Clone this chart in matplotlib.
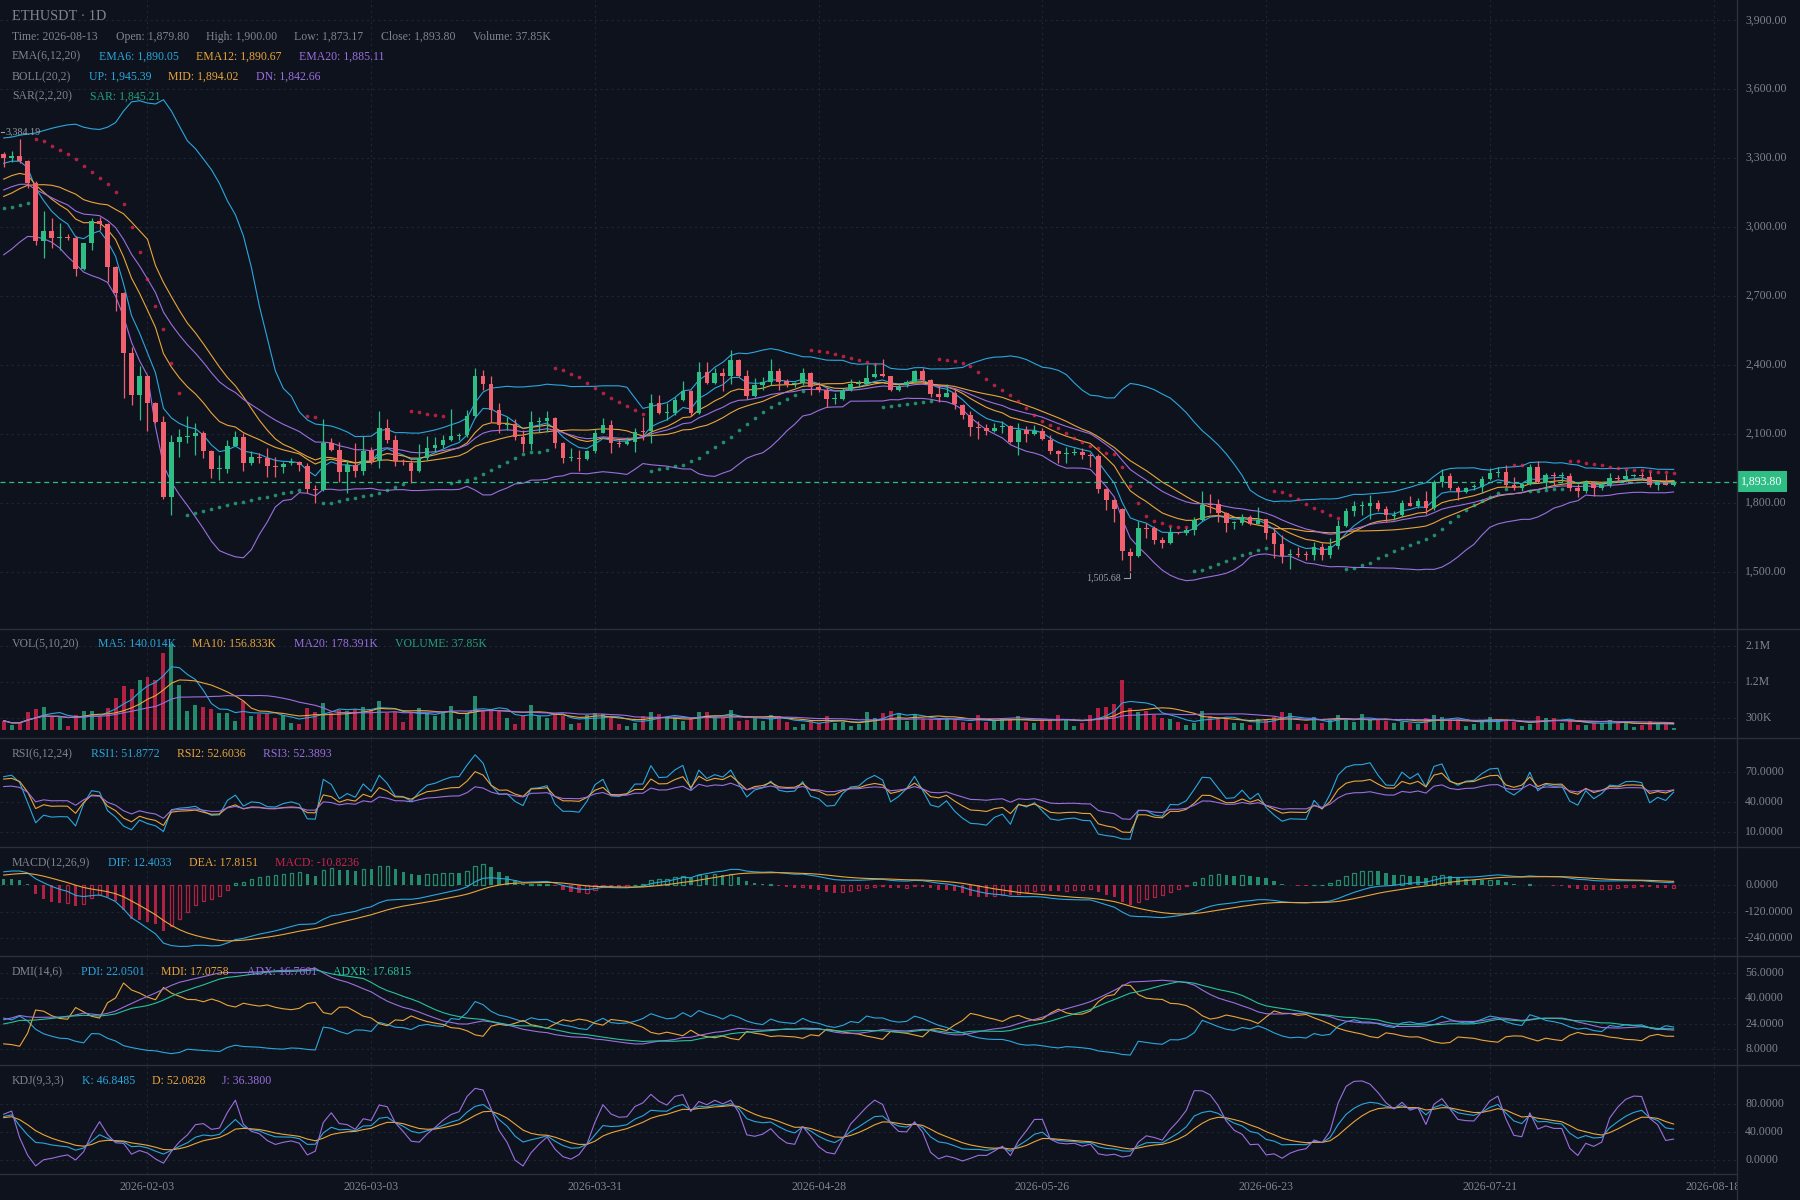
import numpy as np
import matplotlib
matplotlib.use("Agg")
import matplotlib.pyplot as plt
from matplotlib.patches import Rectangle
from matplotlib.collections import PatchCollection
from matplotlib.lines import Line2D
import matplotlib.transforms as mtrans
from datetime import date

# ---------------- data ----------------
start_day = "2026-01-16"
opens = [3319,3299,3310,3286,3191,2942,2984,2955,2957,2952,2819,2930,3027,3015,2825,2712,2455,2271,2351,2235,
         2151,1829,2068,2089,2094,2105,2025,1948,1948,2049,2090,1974,2003,1996,1960,1957,1974,1977,1963,1861,
         1858,2061,2032,1934,1967,1942,2029,1985,2126,2076,1982,1973,1942,1995,2041,2053,2075,2092,2095,2179,
         2352,2318,2205,2140,2144,2089,2057,2153,2158,2170,2063,1996,1998,1991,2028,2106,2140,2060,2057,2067,
         2114,2114,2237,2193,2193,2248,2289,2193,2371,2323,2364,2352,2422,2352,2266,2313,2328,2374,2331,2320,
         2323,2368,2306,2294,2255,2255,2294,2318,2320,2349,2361,2352,2292,2313,2328,2374,2335,2274,2263,2280,
         2226,2182,2129,2129,2114,2132,2135,2067,2117,2103,2113,2074,2026,2016,2019,2022,2009,2007,1863,1814,
         1775,1587,1571,1691,1691,1640,1626,1672,1672,1684,1727,1792,1795,1756,1715,1715,1741,1710,1730,1669,
         1623,1574,1577,1575,1575,1611,1576,1615,1702,1764,1786,1788,1803,1775,1746,1749,1803,1788,1810,1778,
         1894,1919,1865,1848,1870,1872,1904,1932,1934,1880,1865,1882,1956,1894,1922,1917,1919,1868,1851,1894,
         1865,1880,1908,1906,1919,1920,1916,1877,1887,1879.80]
highs = [3329,3330,3384.19,3293,3199,3071,3039,3017,2971,2960,2933,3039,3046,3017,2832,2718,2481,2397,2358,2238,
         2177,2097,2122,2180,2148,2112,2032,2008,2076,2112,2104,2025,2018,2040,2003,1981,1996,1984,1974,1880,
         2165,2083,2068,1989,2061,2093,2044,2202,2165,2097,1991,1988,2056,2092,2089,2096,2208,2106,2205,2386,
         2378,2352,2234,2173,2164,2118,2202,2176,2202,2173,2066,2039,2031,2031,2121,2169,2161,2075,2086,2125,
         2173,2274,2270,2234,2263,2332,2292,2414,2414,2386,2386,2465,2429,2378,2346,2349,2425,2386,2338,2328,
         2386,2371,2328,2306,2277,2303,2342,2335,2400,2404,2425,2355,2323,2335,2381,2386,2342,2320,2318,2299,
         2230,2200,2156,2146,2149,2156,2139,2149,2135,2142,2129,2096,2031,2045,2038,2038,2019,2016,1866,1817,
         1778,1604,1723,1715,1701,1655,1698,1676,1694,1741,1854,1840,1817,1763,1724,1753,1749,1785,1733,1698,
         1662,1600,1611,1590,1633,1626,1648,1728,1778,1810,1810,1836,1814,1788,1768,1814,1832,1822,1851,1901,
         1947,1933,1875,1872,1882,1919,1952,1956,1966,1913,1887,1971,1985,1930,1937,1937,1933,1884,1901,1898,
         1887,1933,1923,1945,1927,1937,1937,1898,1927,1900.00]
lows = [3264,3283,3278,3170,2923,2868,2909,2902,2945,2790,2815,2902,2988,2760,2636,2257,2225,2160,2116,2148,
        1819,1750,2003,2061,2010,1996,1909,1902,1931,2047,1938,1968,1974,1916,1912,1931,1967,1938,1844,1803,
        1851,2025,1894,1843,1913,1923,1971,1952,2061,1960,1966,1890,1937,1990,2024,2038,2070,2075,2090,2169,
        2294,2154,2104,2118,2075,2024,2031,2111,2111,2039,1976,1985,1942,1988,2017,2104,2020,2046,2053,2024,
        2075,2063,2190,2161,2183,2245,2179,2190,2320,2320,2289,2320,2349,2255,2263,2292,2313,2292,2306,2306,
        2313,2270,2284,2219,2231,2250,2290,2306,2318,2345,2349,2287,2290,2306,2323,2320,2263,2241,2260,2208,
        2165,2091,2078,2096,2110,2106,2062,2009,2067,2096,2074,2016,1973,1976,2009,1994,1958,1843,1770,1720,
        1551,1505.68,1568,1647,1623,1607,1623,1666,1662,1662,1722,1756,1720,1676,1686,1705,1705,1708,1643,1561,
        1539,1514,1568,1551,1553,1554,1561,1600,1696,1745,1749,1731,1764,1720,1728,1742,1786,1778,1754,1771,
        1872,1858,1814,1843,1858,1843,1901,1916,1872,1858,1854,1880,1887,1861,1880,1894,1851,1825,1843,1832,
        1858,1872,1894,1894,1913,1904,1872,1858,1877,1873.17]
closes = [3300,3310,3286,3191,2942,2984,2955,2957,2955,2819,2930,3025,3015,2825,2712,2455,2271,2351,2235,2151,
          1825,2067,2087,2093,2105,2025,1948,1951,2049,2090,1974,2003,1996,1960,1957,1971,1977,1965,1861,1858,
          2061,2032,1934,1967,1942,2029,1985,2126,2076,1982,1978,1942,1995,2041,2053,2075,2092,2095,2179,2352,
          2318,2205,2140,2142,2089,2057,2153,2158,2170,2063,1998,1998,1991,2028,2106,2140,2060,2057,2067,2111,
          2111,2237,2193,2196,2248,2289,2193,2371,2323,2364,2352,2422,2352,2266,2313,2328,2374,2328,2320,2323,
          2368,2306,2294,2255,2257,2294,2318,2321,2346,2361,2352,2292,2306,2328,2374,2335,2274,2263,2280,2231,
          2182,2132,2126,2114,2129,2135,2067,2117,2103,2114,2077,2026,2016,2019,2020,2009,2007,1863,1814,1775,
          1590,1571,1691,1689,1640,1626,1672,1670,1684,1727,1792,1790,1756,1715,1717,1741,1710,1727,1669,1623,
          1571,1577,1575,1573,1611,1576,1615,1702,1764,1786,1788,1803,1775,1749,1748,1803,1788,1810,1778,1894,
          1919,1865,1848,1868,1872,1904,1930,1934,1880,1865,1882,1956,1894,1923,1917,1919,1868,1851,1894,1865,
          1880,1908,1906,1919,1920,1918,1877,1887,1880,1893.80]
volumes_k = [226,117,176,444,519,569,310,310,92,368,469,469,310,544,795,1097,1021,1247,1323,1247,
             1934,2150,1122,469,620,561,511,427,427,218,712,343,393,393,285,368,159,134,544,452,
             670,427,494,469,519,561,494,720,427,444,193,410,544,427,343,427,594,260,427,846,
             494,494,477,293,142,343,620,343,285,393,343,142,176,360,419,385,310,142,92,167,
             343,444,393,285,310,218,285,444,444,310,285,494,218,243,285,218,368,343,193,67,
             142,243,159,343,176,201,92,142,444,293,419,469,419,218,393,260,260,260,260,260,
             193,167,368,193,218,260,260,343,193,167,243,243,368,243,92,167,368,544,561,645,
             1247,544,444,469,368,293,268,183,117,175,467,342,300,283,158,158,117,258,258,325,
             442,408,133,133,308,175,242,367,258,192,392,258,242,217,158,192,158,142,283,367,
             308,258,258,92,133,242,308,242,225,192,92,142,342,283,283,167,242,117,117,175,
             175,242,158,175,75,120,210,150,180,37.85]

# indicator state at the first visible candle
ema_start = {6: 3278, 12: 3209, 20: 3162}
macd_ema26_start = 3147
macd_dea_start = 47
rsi_start = {6: (29.5, 45.0), 12: (28.4, 45.0), 24: (25.0, 45.0)}   # (avg gain, avg abs change)
kd_start = (66.0, 60.0)
dmi_start = (80.0, 22.0, 9.0, 26.5, 21.1)   # tr, dm+, dm-, adx, adx six bars before
sar_start = (True, 3085.0, 3330.0, 0.02)    # uptrend, sar, extreme point, af
boll_up_start = [3388,3392,3400,3405,3410,3420,3430,3438,3445,3448,3435,3428,3425,3435,3455,3505,3545,3550,3540]
boll_dn_start = [2880,2905,2935,2960,2958,2950,2935,2910,2872,2840,2805,2790,2778,2760,2700,2612,2500,2420,2355]

tick_dates = ["2026-02-03","2026-03-03","2026-03-31","2026-04-28","2026-05-26","2026-06-23","2026-07-21","2026-08-18"]
price_ticks = [1500,1800,2100,2400,2700,3000,3300,3600,3900]
vol_ticks = [300,1200,2100]
vol_tick_labels = ["300K","1.2M","2.1M"]
rsi_ticks = [10,40,70]
macd_ticks = [-240,-120,0]
dmi_ticks = [8,24,40,56]
kdj_ticks = [0,40,80]

main_header = [
    [("ETHUSDT · 1D", "gray")],
    [("Time: 2026-08-13", "gray"), ("Open: 1,879.80", "gray"), ("High: 1,900.00", "gray"),
     ("Low: 1,873.17", "gray"), ("Close: 1,893.80", "gray"), ("Volume: 37.85K", "gray")],
    [("EMA(6,12,20)", "gray"), ("EMA6: 1,890.05", "c1"), ("EMA12: 1,890.67", "c2"), ("EMA20: 1,885.11", "c3")],
    [("BOLL(20,2)", "gray"), ("UP: 1,945.39", "c1"), ("MID: 1,894.02", "c2"), ("DN: 1,842.66", "c3")],
    [("SAR(2,2,20)", "gray"), ("SAR: 1,845.21", "green")],
]
vol_header = [("VOL(5,10,20)", "gray"), ("MA5: 140.014K", "c1"), ("MA10: 156.833K", "c2"),
              ("MA20: 178.391K", "c3"), ("VOLUME: 37.85K", "green")]
rsi_header = [("RSI(6,12,24)", "gray"), ("RSI1: 51.8772", "c1"), ("RSI2: 52.6036", "c2"), ("RSI3: 52.3893", "c3")]
macd_header = [("MACD(12,26,9)", "gray"), ("DIF: 12.4033", "c1"), ("DEA: 17.8151", "c2"), ("MACD: -10.8236", "red")]
dmi_header = [("DMI(14,6)", "gray"), ("PDI: 22.0501", "c1"), ("MDI: 17.0758", "c2"), ("ADX: 16.7601", "c3"),
              ("ADXR: 17.6815", "teal")]
kdj_header = [("KDJ(9,3,3)", "gray"), ("K: 46.8485", "c1"), ("D: 52.0828", "c2"), ("J: 36.3800", "c3")]

# ---------------- style ----------------
BG = "#0e121c"
GRID = "#1f2633"
SEP = "#2a303c"
GRAY = "#7f848f"
C1 = "#2aa7de"
C2 = "#eaa53a"
C3 = "#9b6fe0"
TEAL = "#26c29a"
GREEN_TXT = "#25a07c"
RED_TXT = "#c8254d"
UP = "#2ebd85"
DOWN = "#f0606f"
UP_BAR = (45/255, 192/255, 142/255, 0.7)
DOWN_BAR = (249/255, 40/255, 85/255, 0.7)
COLORS = {"gray": GRAY, "c1": C1, "c2": C2, "c3": C3, "green": GREEN_TXT, "teal": TEAL, "red": RED_TXT}
FONT = ["Liberation Serif", "DejaVu Serif"]
plt.rcParams["font.family"] = FONT

# ---------------- arrays ----------------
O = np.array(opens, float); Hh = np.array(highs, float); L = np.array(lows, float); C = np.array(closes, float)
V = np.array(volumes_k, float) * 1000.0
N = len(C)
X = np.arange(1, N + 1)
d0 = date.fromisoformat(start_day)

# ---------------- indicators ----------------
def ema_series(vals, period, start):
    out = np.empty(len(vals)); prev = start
    for i, v in enumerate(vals):
        prev = start if i == 0 else (2 * v + (period - 1) * prev) / (period + 1)
        out[i] = prev
    return out

ema6 = ema_series(C, 6, ema_start[6])
ema12 = ema_series(C, 12, ema_start[12])
ema20 = ema_series(C, 20, ema_start[20])

boll_up = np.empty(N); boll_mid = np.empty(N); boll_dn = np.empty(N)
for i in range(N):
    if i < 19:
        boll_up[i] = boll_up_start[i]; boll_dn[i] = boll_dn_start[i]
        boll_mid[i] = (boll_up[i] + boll_dn[i]) / 2
    else:
        w = C[i - 19:i + 1]
        m = w.mean(); s = w.std()
        boll_mid[i] = m; boll_up[i] = m + 2 * s; boll_dn[i] = m - 2 * s

# SAR
sar = np.empty(N)
up, s, ep, af = sar_start
for i in range(N):
    if i > 0:
        if up:
            if L[i] < s:
                up = False; s = ep; ep = L[i]; af = 0.02
            elif Hh[i] > ep:
                ep = Hh[i]; af = min(af + 0.02, 0.2)
        else:
            if Hh[i] > s:
                up = True; s = ep; ep = Hh[i]; af = 0.02
            elif L[i] < ep:
                ep = L[i]; af = min(af + 0.02, 0.2)
    else:
        if up and Hh[i] > ep:
            ep = Hh[i]
    sar[i] = s
    nxt = s + af * (ep - s)
    if up:
        nxt = min(nxt, L[i], L[i - 1] if i > 0 else L[i])
    else:
        nxt = max(nxt, Hh[i], Hh[i - 1] if i > 0 else Hh[i])
    s = nxt
sar_up = sar < C

# volume MAs
def ma_partial(vals, p):
    return np.array([vals[max(0, i - p + 1):i + 1].mean() for i in range(len(vals))])
vma5 = ma_partial(V, 5); vma10 = ma_partial(V, 10); vma20 = ma_partial(V, 20)

# RSI
prevC = np.concatenate([[O[0]], C[:-1]])
chg = C - prevC
def rsi_series(p, st):
    g, a = st; out = np.empty(N)
    for i in range(N):
        if i > 0:
            g = (max(chg[i], 0) + (p - 1) * g) / p
            a = (abs(chg[i]) + (p - 1) * a) / p
        out[i] = 100 * g / a if a > 0 else 50
    return out
rsi1 = rsi_series(6, rsi_start[6]); rsi2 = rsi_series(12, rsi_start[12]); rsi3 = rsi_series(24, rsi_start[24])

# MACD
e26 = ema_series(C, 26, macd_ema26_start)
dif = ema12 - e26
dea = np.empty(N)
for i in range(N):
    dea[i] = macd_dea_start if i == 0 else (2 * dif[i] + 8 * dea[i - 1]) / 10
hist = 2 * (dif - dea)

# DMI (Wilder smoothing, ADXR = mean of ADX and ADX six bars back)
tr_s, dmp_s, dmm_s, adx_v, adx_before = dmi_start
pdi = np.empty(N); mdi = np.empty(N); adx = np.empty(N); adxr = np.empty(N)
for i in range(N):
    if i > 0:
        pc = C[i - 1]; ph = Hh[i - 1]; pl = L[i - 1]
        tr = max(Hh[i] - L[i], abs(Hh[i] - pc), abs(pc - L[i]))
        hd = Hh[i] - ph; ld = pl - L[i]
        dp = hd if (hd > 0 and hd > ld) else 0.0
        dm = ld if (ld > 0 and ld > hd) else 0.0
        tr_s += (tr - tr_s) / 14; dmp_s += (dp - dmp_s) / 14; dmm_s += (dm - dmm_s) / 14
    p_ = dmp_s * 100 / tr_s; m_ = dmm_s * 100 / tr_s
    if i > 0:
        dx = abs(m_ - p_) / (m_ + p_) * 100 if (m_ + p_) > 0 else 0
        adx_v += (dx - adx_v) / 14
    pdi[i] = p_; mdi[i] = m_; adx[i] = adx_v
    back = adx[i - 6] if i >= 6 else adx_before + (adx[0] - adx_before) * i / 6
    adxr[i] = (adx_v + back) / 2

# KDJ
kk, dd = kd_start
K = np.empty(N); D = np.empty(N)
for i in range(N):
    hh = Hh[max(0, i - 8):i + 1].max(); ll = L[max(0, i - 8):i + 1].min()
    rsv = (C[i] - ll) / (hh - ll) * 100 if hh > ll else 50
    kk = (2 * kk + rsv) / 3; dd = (2 * dd + kk) / 3
    K[i] = kk; D[i] = dd
J = 3 * K - 2 * D

# ---------------- layout ----------------
W, Hpx = 1800, 1200
RIGHT = 1737
fig = plt.figure(figsize=(18, 12), dpi=100)
fig.patch.set_facecolor(BG)
XL = (0.54, 217.93)

def add_panel(top, bot, ylim):
    ax = fig.add_axes([0, 1 - bot / Hpx, RIGHT / W, (bot - top) / Hpx])
    ax.set_facecolor(BG)
    ax.set_xlim(*XL); ax.set_ylim(*ylim)
    for sp in ax.spines.values():
        sp.set_visible(False)
    ax.set_xticks([]); ax.set_yticks([])
    return ax

ax_main = add_panel(0, 629, (1253, 3988))
ax_vol = add_panel(629, 738, (-209e3, 2527e3))
ax_rsi = add_panel(738, 847, (-5.5, 104.6))
ax_macd = add_panel(847, 956, (-322, 175))
ax_dmi = add_panel(956, 1065, (-2.1, 66.7))
ax_kdj = add_panel(1065, 1174.3, (-20, 136))
ax_x = add_panel(1174.3, 1200, (0, 1))

tick_idx = [(date.fromisoformat(t) - d0).days + 1 for t in tick_dates]
grid_kw = dict(color=GRID, lw=0.8, ls=(0, (2, 3)), zorder=0)

def yaxis(ax, ticks, labels):
    for t in ticks:
        ax.axhline(t, **grid_kw)
    for t, lab in zip(ticks, labels):
        ax.text(1745 / RIGHT, t, lab, transform=ax.get_yaxis_transform(), color=GRAY,
                fontsize=8.5, va="center", ha="left", clip_on=False)

for ax in (ax_main, ax_vol, ax_rsi, ax_macd, ax_dmi, ax_kdj):
    for ti in tick_idx:
        ax.axvline(ti, **grid_kw)

yaxis(ax_main, price_ticks, [f"{p:,.2f}" for p in price_ticks])
yaxis(ax_vol, [v * 1000 for v in vol_ticks], vol_tick_labels)
yaxis(ax_rsi, rsi_ticks, [f"{v:.4f}" for v in rsi_ticks])
yaxis(ax_macd, macd_ticks, [f"{v:.4f}" for v in macd_ticks])
yaxis(ax_dmi, dmi_ticks, [f"{v:.4f}" for v in dmi_ticks])
yaxis(ax_kdj, kdj_ticks, [f"{v:.4f}" for v in kdj_ticks])

for ti, lab in zip(tick_idx, tick_dates):
    ax_x.text(ti, 0.5, lab, color=GRAY, fontsize=8.5, ha="center", va="center", clip_on=True)

# ---------------- main panel ----------------
LW = 0.8
ax_main.plot(X, boll_up, color=C1, lw=LW, zorder=2)
ax_main.plot(X, boll_mid, color=C2, lw=LW, zorder=2)
ax_main.plot(X, boll_dn, color=C3, lw=LW, zorder=2)
ax_main.plot(X, ema6, color=C1, lw=LW, zorder=2)
ax_main.plot(X, ema12, color=C2, lw=LW, zorder=2)
ax_main.plot(X, ema20, color=C3, lw=LW, zorder=2)

ax_main.scatter(X[sar_up], sar[sar_up], s=7, color=UP_BAR, lw=0, zorder=3)
ax_main.scatter(X[~sar_up], sar[~sar_up], s=7, color=DOWN_BAR, lw=0, zorder=3)

px_price = (3988 - 1253) / 629.0
isup = C >= O
cols = [UP if u else DOWN for u in isup]
ax_main.vlines(X, L, Hh, colors=cols, lw=0.9, zorder=4)
bw = 0.58
rects = [Rectangle((x - bw / 2, min(o, c)), bw, max(abs(c - o), px_price)) for x, o, c in zip(X, O, C)]
ax_main.add_collection(PatchCollection(rects, facecolors=cols, edgecolors="none", zorder=5))

# last price line and label
ax_main.axhline(C[-1], color=UP, lw=0.9, ls=(0, (4, 3)), zorder=6)
ax_main.text(1741 / RIGHT, C[-1], f"{C[-1]:,.2f}", transform=ax_main.get_yaxis_transform(),
             color="#ffffff", fontsize=8.5, va="center", ha="left", clip_on=False, zorder=10,
             bbox=dict(boxstyle="square,pad=0.35", fc=UP, ec="none"))

# high / low marks
imax = int(np.argmax(Hh)); imin = int(np.argmin(L))
inv = ax_main.transData.inverted()
hy = ax_main.transData.transform((X[imax], Hh[imax]))[1]
_, hval = inv.transform((0, hy + 7))
t_px = mtrans.blended_transform_factory(mtrans.IdentityTransform(), ax_main.transData)
ax_main.text(5, hval, f"{Hh[imax]:,.2f}", transform=t_px, color="#9a9fa8", fontsize=7.2,
             va="center", ha="left", zorder=8)
ax_main.add_line(Line2D([0.5, 3.5], [hval, hval], transform=t_px, color="#9a9fa8", lw=0.8, zorder=8))

lx, ly = ax_main.transData.transform((X[imin], L[imin]))
lpts = inv.transform([(lx - 6, ly - 7), (lx, ly - 7), (lx, ly - 2)])
ax_main.add_line(Line2D(lpts[:, 0], lpts[:, 1], color="#9a9fa8", lw=0.8, zorder=8))
_, ltext = inv.transform((0, ly - 6.5))
ax_main.text(X[imin] - 9 / 7.99, ltext, f"{L[imin]:,.2f}", color="#9a9fa8", fontsize=7.2,
             va="center", ha="right", zorder=8)

# ---------------- volume ----------------
vcols = [UP_BAR if u else DOWN_BAR for u in isup]
ax_vol.bar(X, V, width=0.5, color=vcols, lw=0, zorder=3)
ax_vol.plot(X, vma5, color=C1, lw=LW, zorder=4)
ax_vol.plot(X, vma10, color=C2, lw=LW, zorder=4)
ax_vol.plot(X, vma20, color=C3, lw=LW, zorder=4)

# ---------------- RSI ----------------
ax_rsi.plot(X, rsi1, color=C1, lw=LW)
ax_rsi.plot(X, rsi2, color=C2, lw=LW)
ax_rsi.plot(X, rsi3, color=C3, lw=LW)

# ---------------- MACD ----------------
mw = 0.42
mpx = (175 + 322) / 109.0
for i in range(N):
    hv = hist[i]
    col = UP_BAR if hv > 0 else DOWN_BAR
    prev = hist[i - 1] if i > 0 else hv + (1 if hv > 0 else -1)
    hollow = hv > prev
    hgt = max(abs(hv), mpx * 0.6)
    y0 = 0 if hv > 0 else -hgt
    if hollow:
        ax_macd.add_patch(Rectangle((X[i] - mw / 2, y0), mw, hgt, fc="none", ec=col, lw=0.9, zorder=3))
    else:
        ax_macd.add_patch(Rectangle((X[i] - mw / 2, y0), mw, hgt, fc=col, ec="none", zorder=3))
ax_macd.plot(X, dif, color=C1, lw=LW, zorder=4)
ax_macd.plot(X, dea, color=C2, lw=LW, zorder=4)

# ---------------- DMI ----------------
ax_dmi.plot(X, pdi, color=C1, lw=LW)
ax_dmi.plot(X, mdi, color=C2, lw=LW)
ax_dmi.plot(X, adx, color=C3, lw=LW)
ax_dmi.plot(X, adxr, color=TEAL, lw=LW)

# ---------------- KDJ ----------------
ax_kdj.plot(X, K, color=C1, lw=LW)
ax_kdj.plot(X, D, color=C2, lw=LW)
ax_kdj.plot(X, J, color=C3, lw=LW)

# ---------------- headers ----------------
main_xs = [[12], [12, 115.5, 205.5, 294, 380.8, 472.6], [12, 99, 196, 299], [12, 88.8, 168.4, 256], [12, 89.6]]
main_ys = [16, 37, 56.5, 77, 96.5]
for row, xs, y in zip(main_header, main_xs, main_ys):
    for (txt, ck), x in zip(row, xs):
        fs = 10.3 if txt.startswith("ETHUSDT") else 8.5
        fig.text(x / W, 1 - y / Hpx, txt, color=COLORS[ck], fontsize=fs, va="center", ha="left")

def header(items, xs, y):
    for (txt, ck), x in zip(items, xs):
        fig.text(x / W, 1 - y / Hpx, txt, color=COLORS[ck], fontsize=8.5, va="center", ha="left")

header(vol_header, [12, 97.6, 192, 294, 395], 644)
header(rsi_header, [12, 91, 176.7, 263.3], 754)
header(macd_header, [12, 108.3, 189, 275], 863)
header(dmi_header, [12, 80.7, 161.3, 246.7, 333.3], 972)
header(kdj_header, [12, 82.3, 152.3, 221.7], 1081)

# ---------------- separators ----------------
for yy in (629, 738, 847, 956, 1065):
    fig.add_artist(Line2D([0, 1], [1 - yy / Hpx] * 2, transform=fig.transFigure, color=SEP, lw=1.0))
fig.add_artist(Line2D([0, RIGHT / W], [1 - 1174.3 / Hpx] * 2, transform=fig.transFigure, color=SEP, lw=1.0))
fig.add_artist(Line2D([RIGHT / W] * 2, [0, 1], transform=fig.transFigure, color=SEP, lw=1.0))

fig.savefig("out.png", dpi=100, facecolor=BG)
